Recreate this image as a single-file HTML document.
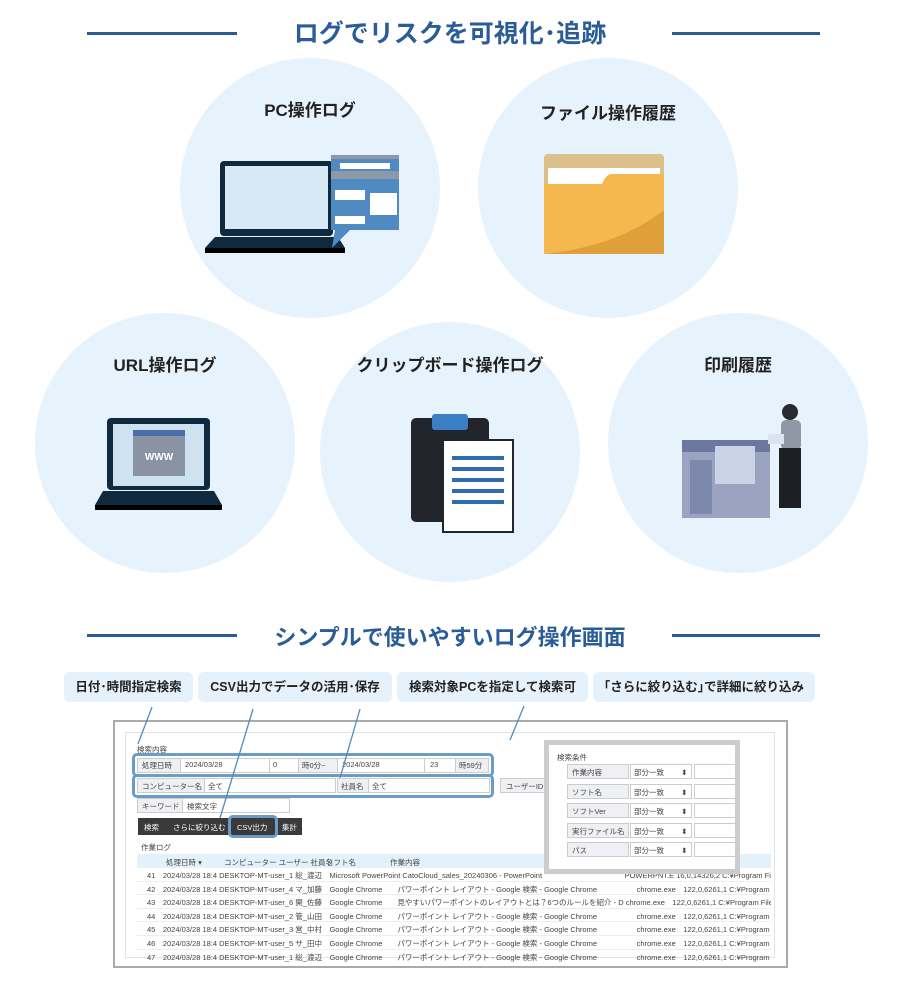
<!DOCTYPE html>
<html><head><meta charset="utf-8"><style>
body{margin:0;width:900px;height:1000px;background:#fff;position:relative;overflow:hidden;font-family:"Liberation Sans","Noto Sans CJK JP",sans-serif}
.a{position:absolute}
.t{color:#2a5d98;font-weight:bold;font-size:25px;text-align:center;width:900px;left:0}
.ln{position:absolute;height:3px;background:#2a5d98}
.lbl{position:absolute;font-weight:bold;font-size:17px;color:#222;text-align:center}
.co{position:absolute;top:672px;height:30px;background:#e6f2fb;border-radius:6px;font-size:12.5px;font-weight:bold;color:#222;line-height:30px;text-align:center}
.sm{font-size:7.5px;color:#444;position:absolute;white-space:nowrap}
.in{position:absolute;border:1px solid #ccc;background:#fff;height:13px}
.gb{position:absolute;background:#eef0f3;border:1px solid #ccc;height:13px}
.hl{position:absolute;border:3px solid #6a9cc8;border-radius:5px}
.r{height:12.6px;border-bottom:1px solid #eee;position:relative}
</style></head><body>
<div class="a t" style="top:14px">ログでリスクを可視化･追跡</div>
<div class="ln" style="left:87px;width:150px;top:32px"></div>
<div class="ln" style="left:672px;width:148px;top:32px"></div>
<svg class="a" style="left:0;top:0" width="900" height="600">
<circle cx="310" cy="188" r="130" fill="#e7f3fc"/>
<circle cx="608" cy="188" r="130" fill="#e7f3fc"/>
<circle cx="165" cy="443" r="130" fill="#e7f3fc"/>
<circle cx="450" cy="452" r="130" fill="#e7f3fc"/>
<circle cx="738" cy="443" r="130" fill="#e7f3fc"/>
<rect x="220" y="161" width="113" height="75" rx="4" fill="#0f2a3f"/>
<rect x="225" y="166" width="103" height="63" fill="#d6e9f5"/>
<polygon points="215,237 338,237 345,248 205,248" fill="#0f2a3f"/>
<rect x="205" y="248" width="140" height="5" fill="#000"/>
<rect x="331" y="155" width="68" height="75" fill="#4f8bc0"/>
<rect x="331" y="155" width="68" height="4" fill="#8d98a8"/>
<rect x="340" y="163" width="50" height="6" fill="#fff"/>
<rect x="331" y="171" width="68" height="8" fill="#8d98a8"/>
<rect x="335" y="190" width="30" height="10" fill="#fff"/>
<rect x="370" y="193" width="27" height="22" fill="#fff"/>
<rect x="335" y="216" width="30" height="8" fill="#fff"/>
<polygon points="335,230 350,230 332,248" fill="#4f8bc0"/>
<rect x="544" y="154" width="120" height="100" rx="4" fill="#dcc08c"/>
<rect x="548" y="168" width="112" height="18" fill="#fff"/>
<path d="M544 184 L602 184 Q606 174 612 174 L664 174 L664 254 L544 254Z" fill="#f4b84f"/>
<path d="M664 210 Q620 245 546 254 L664 254Z" fill="#df9f3a"/>
<rect x="107" y="418" width="103" height="72" rx="4" fill="#0f2a3f"/>
<rect x="113" y="424" width="91" height="62" fill="#cfe2f1"/>
<rect x="133" y="430" width="52" height="46" fill="#8a93a3"/>
<rect x="133" y="430" width="52" height="6" fill="#4a6fa8"/>
<text x="159" y="460" font-size="10" font-weight="bold" fill="#fff" text-anchor="middle" font-family="Liberation Sans">WWW</text>
<polygon points="103,491 214,491 222,505 95,505" fill="#0f2a3f"/>
<rect x="95" y="505" width="127" height="5" fill="#000"/>
<rect x="411" y="418" width="78" height="104" rx="5" fill="#22252c"/>
<rect x="432" y="414" width="36" height="16" rx="3" fill="#3a7fc6"/>
<rect x="443" y="440" width="70" height="92" fill="#fff" stroke="#22252c" stroke-width="2"/>
<g fill="#2f6db0"><rect x="452" y="456" width="52" height="4"/><rect x="452" y="467" width="52" height="4"/><rect x="452" y="478" width="52" height="4"/><rect x="452" y="489" width="52" height="4"/><rect x="452" y="500" width="52" height="4"/></g>
<rect x="682" y="440" width="88" height="78" fill="#9aa4c0"/>
<rect x="682" y="440" width="88" height="12" fill="#6b77a1"/>
<rect x="715" y="446" width="40" height="38" fill="#c9d3e8"/>
<rect x="690" y="460" width="22" height="54" fill="#7d88ad"/>
<circle cx="790" cy="412" r="8" fill="#2a2a2e"/>
<rect x="781" y="420" width="20" height="30" rx="5" fill="#9098a6"/>
<rect x="779" y="448" width="22" height="60" fill="#1e1f24"/>
<rect x="768" y="434" width="16" height="10" fill="#dde3ee"/>
</svg>
<div class="lbl" style="left:210px;width:200px;top:96px">PC操作ログ</div>
<div class="lbl" style="left:508px;width:200px;top:99px">ファイル操作履歴</div>
<div class="lbl" style="left:65px;width:200px;top:351px">URL操作ログ</div>
<div class="lbl" style="left:330px;width:240px;top:351px">クリップボード操作ログ</div>
<div class="lbl" style="left:638px;width:200px;top:351px">印刷履歴</div>

<div class="a t" style="top:620px;font-size:22px">シンプルで使いやすいログ操作画面</div>
<div class="ln" style="left:87px;width:150px;top:634px"></div>
<div class="ln" style="left:672px;width:148px;top:634px"></div>
<div class="co" style="left:64px;width:129px">日付･時間指定検索</div>
<div class="co" style="left:198px;width:194px">CSV出力でデータの活用･保存</div>
<div class="co" style="left:397px;width:191px">検索対象PCを指定して検索可</div>
<div class="co" style="left:593px;width:222px">｢さらに絞り込む｣で詳細に絞り込み</div>

<div class="a" style="left:113px;top:720px;width:671px;height:244px;border:2px solid #aaa;background:#fff"></div>
<div class="a" style="left:125px;top:732px;width:648px;height:224px;border:1px solid #e3e3e3"></div>
<div class="sm" style="left:137px;top:744px">検索内容</div>
<div class="gb" style="left:137px;top:758px;width:42px"></div><div class="sm" style="left:142px;top:760px">処理日時</div>
<div class="in" style="left:180px;top:758px;width:88px"></div><div class="sm" style="left:185px;top:760px">2024/03/28</div>
<div class="in" style="left:269px;top:758px;width:28px"></div><div class="sm" style="left:273px;top:760px">0</div>
<div class="gb" style="left:298px;top:758px;width:38px"></div><div class="sm" style="left:302px;top:760px">時0分~</div>
<div class="in" style="left:337px;top:758px;width:86px"></div><div class="sm" style="left:342px;top:760px">2024/03/28</div>
<div class="in" style="left:424px;top:758px;width:30px"></div><div class="sm" style="left:430px;top:760px">23</div>
<div class="gb" style="left:455px;top:758px;width:32px"></div><div class="sm" style="left:459px;top:760px">時59分</div>
<div class="gb" style="left:137px;top:778px;width:66px"></div><div class="sm" style="left:142px;top:781px">コンピューター名</div>
<div class="in" style="left:204px;top:778px;width:130px"></div><div class="sm" style="left:208px;top:781px">全て</div>
<div class="gb" style="left:337px;top:778px;width:30px"></div><div class="sm" style="left:341px;top:781px">社員名</div>
<div class="in" style="left:368px;top:778px;width:120px"></div><div class="sm" style="left:372px;top:781px">全て</div>
<div class="gb" style="left:500px;top:778px;width:46px"></div><div class="sm" style="left:506px;top:781px">ユーザーID</div>
<div class="hl" style="left:132px;top:753px;width:356px;height:18px"></div>
<div class="hl" style="left:132px;top:774px;width:356px;height:18px"></div>
<div class="gb" style="left:137px;top:798px;width:44px"></div><div class="sm" style="left:142px;top:801px">キーワード</div>
<div class="in" style="left:182px;top:798px;width:106px"></div><div class="sm" style="left:187px;top:801px">検索文字</div>
<div class="a" style="left:138px;top:818px;width:164px;height:17px;background:#3a3a3a"></div>
<div class="sm" style="left:144px;top:822px;color:#fff">検索</div>
<div class="sm" style="left:173px;top:822px;color:#fff">さらに絞り込む</div>
<div class="sm" style="left:237px;top:822px;color:#fff">CSV出力</div>
<div class="sm" style="left:282px;top:822px;color:#fff">集計</div>
<div class="hl" style="left:228px;top:815px;width:44px;height:17px"></div>
<div class="sm" style="left:141px;top:842px">作業ログ</div>
<div class="a" style="left:137px;top:854px;width:634px;height:14px;background:#e3f1fb"></div>
<div class="sm" style="left:166px;top:857px">処理日時 ▾</div><div class="sm" style="left:224px;top:857px">コンピューター ユーザー 社員名</div><div class="sm" style="left:326px;top:857px">ソフト名</div><div class="sm" style="left:390px;top:857px">作業内容</div>
<div style="position:absolute;left:137px;top:868px;width:634px;height:94px;overflow:hidden">
<div class="r"><span class="sm" style="left:10px;top:2px">41　2024/03/28 18:4 DESKTOP-MT-user_1 総_渡辺　Microsoft PowerPoint CatoCloud_sales_20240306 - PowerPoint　　　　　　　　　　　POWERPNT.E 16,0,14326,2 C:¥Program Files¥Microsoft Of</span></div>
<div class="r"><span class="sm" style="left:10px;top:2px">42　2024/03/28 18:4 DESKTOP-MT-user_4 マ_加藤　Google Chrome　　パワーポイント レイアウト - Google 検索 - Google Chrome　　　　　 chrome.exe　122,0,6261,1 C:¥Program Files¥Google¥Chr</span></div>
<div class="r"><span class="sm" style="left:10px;top:2px">43　2024/03/28 18:4 DESKTOP-MT-user_6 開_佐藤　Google Chrome　　見やすいパワーポイントのレイアウトとは？6つのルールを紹介 - D chrome.exe　122,0,6261,1 C:¥Program Files¥Google¥Chr</span></div>
<div class="r"><span class="sm" style="left:10px;top:2px">44　2024/03/28 18:4 DESKTOP-MT-user_2 管_山田　Google Chrome　　パワーポイント レイアウト - Google 検索 - Google Chrome　　　　　 chrome.exe　122,0,6261,1 C:¥Program Files¥Google¥Chr</span></div>
<div class="r"><span class="sm" style="left:10px;top:2px">45　2024/03/28 18:4 DESKTOP-MT-user_3 営_中村　Google Chrome　　パワーポイント レイアウト - Google 検索 - Google Chrome　　　　　 chrome.exe　122,0,6261,1 C:¥Program Files¥Google¥Chr</span></div>
<div class="r"><span class="sm" style="left:10px;top:2px">46　2024/03/28 18:4 DESKTOP-MT-user_5 サ_田中　Google Chrome　　パワーポイント レイアウト - Google 検索 - Google Chrome　　　　　 chrome.exe　122,0,6261,1 C:¥Program Files¥Google¥Chr</span></div>
<div class="r"><span class="sm" style="left:10px;top:2px">47　2024/03/28 18:4 DESKTOP-MT-user_1 総_渡辺　Google Chrome　　パワーポイント レイアウト - Google 検索 - Google Chrome　　　　　 chrome.exe　122,0,6261,1 C:¥Program Files¥Google¥Chr</span></div>
</div>
<div class="a" style="left:544px;top:740px;width:186px;height:124px;border:5px solid #ccc;background:#fff;overflow:hidden">
<div class="sm" style="left:8px;top:7px">検索条件</div>
<div style="position:absolute;left:18px;top:19px">
<div style="position:relative;height:19.5px"><div class="gb" style="left:0;width:60px"></div><span class="sm" style="left:5px;top:3px">作業内容</span><div class="in" style="left:63px;width:60px"></div><span class="sm" style="left:67px;top:3px">部分一致　　 ⬍</span><div class="in" style="left:127px;width:50px"></div></div>
<div style="position:relative;height:19.5px"><div class="gb" style="left:0;width:60px"></div><span class="sm" style="left:5px;top:3px">ソフト名</span><div class="in" style="left:63px;width:60px"></div><span class="sm" style="left:67px;top:3px">部分一致　　 ⬍</span><div class="in" style="left:127px;width:50px"></div></div>
<div style="position:relative;height:19.5px"><div class="gb" style="left:0;width:60px"></div><span class="sm" style="left:5px;top:3px">ソフトVer</span><div class="in" style="left:63px;width:60px"></div><span class="sm" style="left:67px;top:3px">部分一致　　 ⬍</span><div class="in" style="left:127px;width:50px"></div></div>
<div style="position:relative;height:19.5px"><div class="gb" style="left:0;width:60px"></div><span class="sm" style="left:5px;top:3px">実行ファイル名</span><div class="in" style="left:63px;width:60px"></div><span class="sm" style="left:67px;top:3px">部分一致　　 ⬍</span><div class="in" style="left:127px;width:50px"></div></div>
<div style="position:relative;height:19.5px"><div class="gb" style="left:0;width:60px"></div><span class="sm" style="left:5px;top:3px">パス</span><div class="in" style="left:63px;width:60px"></div><span class="sm" style="left:67px;top:3px">部分一致　　 ⬍</span><div class="in" style="left:127px;width:50px"></div></div>
</div>
</div>
<svg class="a" style="left:0;top:0" width="900" height="1000">
<g stroke="#4f8bc0" stroke-width="1.3">
<line x1="152" y1="707" x2="138" y2="744"/>
<line x1="253" y1="709" x2="220" y2="818"/>
<line x1="360" y1="709" x2="340" y2="778"/>
<line x1="524" y1="706" x2="510" y2="740"/>
</g></svg>
</body></html>
